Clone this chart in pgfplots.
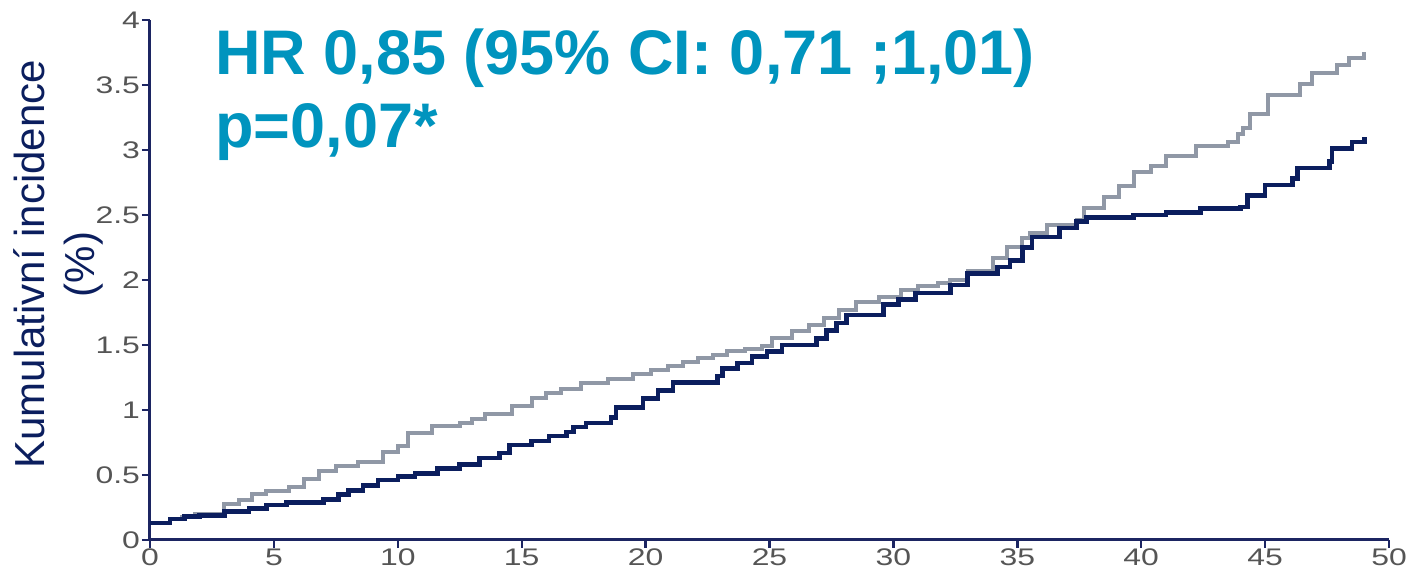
\documentclass[border=0pt]{standalone}
\usepackage{fontspec}
\setmainfont{Liberation Sans}
\newfontfamily\tickfont[FakeStretch=1.33]{Liberation Sans}
\usepackage{pgfplots}
\pgfplotsset{compat=1.18}
\usepackage{pgfplotstable}

\definecolor{navy}{HTML}{0B1E5E}
\definecolor{axisnavy}{HTML}{1C2562}
\definecolor{greycurve}{HTML}{9098A6}
\definecolor{hrblue}{HTML}{0094BE}
\definecolor{ticktext}{HTML}{555555}

% Cumulative incidence, control arm (x = months, y = %)
\pgfplotstableread{
x y
0 0.13
0.8 0.16
1.3 0.18
1.8 0.20
3.0 0.28
3.6 0.31
4.1 0.35
4.7 0.38
5.6 0.41
6.2 0.47
6.8 0.53
7.5 0.57
8.4 0.60
9.4 0.68
10.0 0.72
10.4 0.82
11.4 0.88
12.5 0.90
13.0 0.93
13.5 0.97
14.6 1.03
15.4 1.09
16.0 1.13
16.6 1.16
17.4 1.21
18.5 1.24
19.5 1.28
20.2 1.31
20.9 1.34
21.5 1.37
22.1 1.40
22.7 1.42
23.3 1.45
24.0 1.47
24.7 1.49
25.1 1.55
25.9 1.61
26.6 1.65
27.2 1.71
27.8 1.77
28.5 1.83
29.4 1.87
30.3 1.92
31.0 1.95
31.8 1.98
32.3 2.00
33.0 2.07
34.0 2.17
34.6 2.25
35.2 2.32
35.5 2.36
36.2 2.42
37.4 2.46
37.7 2.55
38.5 2.64
39.1 2.72
39.7 2.83
40.4 2.88
41.0 2.95
42.2 3.03
43.5 3.06
43.9 3.12
44.1 3.17
44.4 3.28
45.1 3.42
46.4 3.51
46.9 3.59
47.9 3.65
48.4 3.71
49.0 3.75
}\controlarm

% Cumulative incidence, treatment arm
\pgfplotstableread{
x y
0 0.13
0.8 0.16
1.4 0.18
2.0 0.19
3.0 0.22
4.0 0.24
4.7 0.27
5.5 0.29
7.0 0.31
7.6 0.35
8.0 0.38
8.6 0.42
9.2 0.46
10.0 0.49
10.7 0.51
11.6 0.55
12.5 0.58
13.3 0.63
14.1 0.67
14.5 0.73
15.4 0.76
16.1 0.80
16.8 0.83
17.1 0.87
17.6 0.90
18.6 0.94
18.8 1.02
19.9 1.09
20.5 1.15
21.1 1.21
22.9 1.26
23.1 1.32
23.7 1.36
24.3 1.41
24.9 1.45
25.5 1.50
26.9 1.55
27.3 1.61
27.7 1.67
28.1 1.73
29.6 1.81
30.2 1.85
30.9 1.90
32.3 1.96
33.0 2.05
34.2 2.10
34.7 2.15
35.2 2.25
35.6 2.33
36.7 2.40
37.4 2.45
37.8 2.48
39.7 2.50
41.0 2.52
42.4 2.55
44.0 2.56
44.3 2.65
45.0 2.73
46.1 2.78
46.3 2.86
47.6 2.91
47.7 3.01
48.5 3.06
49.0 3.10
}\treatmentarm

\begin{document}
\begin{tikzpicture}
\begin{axis}[
  scale only axis,
  width=619.5pt, height=260pt,
  xmin=0, xmax=50, ymin=0, ymax=4,
  axis x line=bottom, axis y line=left,
  axis line style={-, axisnavy, line width=1.5pt},
  xtick={0,5,...,50},
  ytick={0,0.5,...,4},
  yticklabels={0,0.5,1,1.5,2,2.5,3,3.5,4},
  xticklabels={0,5,10,15,20,25,30,35,40,45,50},
  tick align=outside,
  major tick length=4pt,
  tick style={axisnavy, line width=1.2pt},
  ticklabel style={font=\tickfont\fontsize{12pt}{14pt}\selectfont, text=ticktext},
  yticklabel style={xshift=2.5pt},
  xticklabel style={yshift=3pt},
  /pgf/number format/assume math mode=true,
  clip=false,
]
\addplot[const plot, greycurve, line width=2pt] table[x=x, y=y] {\controlarm};
\addplot[const plot, navy, line width=2.3pt] table[x=x, y=y] {\treatmentarm};

\node[rotate=90, align=center, text=navy,
      font=\fontsize{21pt}{25pt}\selectfont]
  at ([xshift=-46pt]axis cs:0,2.12) {Kumulativní incidence\\(\%)};

\node[anchor=base west, text=hrblue, font=\bfseries\fontsize{31.5pt}{36pt}\selectfont, inner sep=0pt]
  at ([xshift=32.5pt, yshift=232.5pt]rel axis cs:0,0) {HR 0,85 (95\% CI: 0,71 ;1,01)};
\node[anchor=base west, text=hrblue, font=\bfseries\fontsize{31.5pt}{36pt}\selectfont, inner sep=0pt]
  at ([xshift=32.5pt, yshift=196pt]rel axis cs:0,0) {p=0,07*};
\end{axis}
\pgfresetboundingbox
\useasboundingbox (-75pt,-20.5pt) rectangle (632pt,270pt);
\end{tikzpicture}
\end{document}
